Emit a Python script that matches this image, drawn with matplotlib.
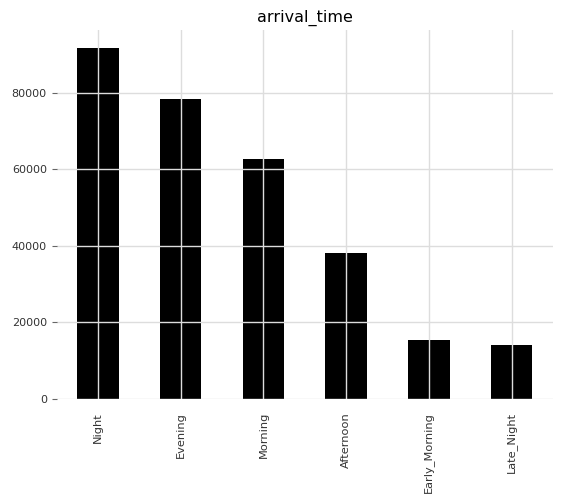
import matplotlib
matplotlib.use("Agg")
import matplotlib.pyplot as plt
import pandas as pd

categories = ["Night", "Evening", "Morning", "Afternoon", "Early_Morning", "Late_Night"]
counts = [91800, 78400, 62800, 38000, 15300, 14000]

counts_series = pd.Series(counts, index=categories)

fig = plt.figure(figsize=(5.62, 5.01), dpi=100)
ax = fig.add_axes([0.1007, 0.2042, 0.8833, 0.7358])
counts_series.plot(kind="bar", ax=ax, color="black", width=0.5)

ax.set_axisbelow(False)
ax.grid(True, color="#dddddd", linewidth=1.0)
for side in ["top", "right", "bottom", "left"]:
    ax.spines[side].set_visible(False)
ax.tick_params(axis="y", labelsize=8, colors="#333333", length=3.5, width=0.8)
ax.tick_params(axis="y", color="#666666")
ax.tick_params(axis="x", labelsize=8.2, colors="#333333", length=0, pad=9.5)
ax.set_title("arrival_time", fontsize=11.5, color="black")
ax.set_xlabel("")

fig.savefig("out.png", dpi=100)
